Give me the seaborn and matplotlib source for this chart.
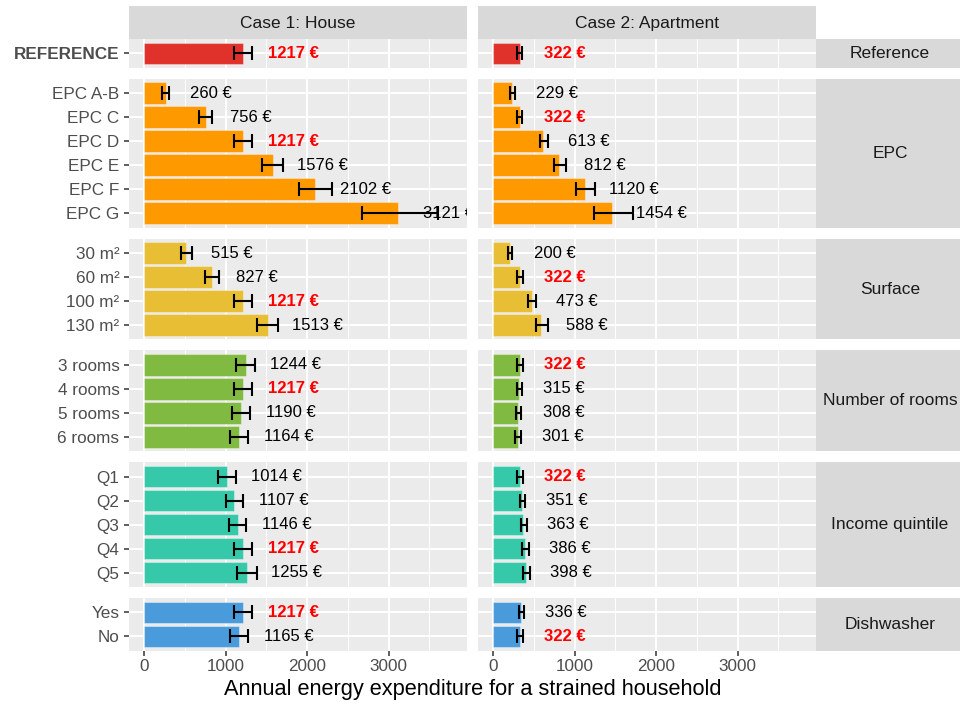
import numpy as np
import pandas as pd
import matplotlib
matplotlib.use("Agg")
import matplotlib.pyplot as plt
from matplotlib.ticker import MultipleLocator
import seaborn as sns

# ---------------------------------------------------------------
# data
# ---------------------------------------------------------------
group_names = ["Reference", "EPC", "Surface", "Number of rooms",
               "Income quintile", "Dishwasher"]
group_colors = ["#E0312A", "#FF9900", "#E8BE35", "#80BA40", "#35C8A9", "#4A9BDC"]

row_group = (["Reference"] + ["EPC"] * 6 + ["Surface"] * 4 +
             ["Number of rooms"] * 4 + ["Income quintile"] * 5 + ["Dishwasher"] * 2)
row_labels = ["REFERENCE",
              "EPC A-B", "EPC C", "EPC D", "EPC E", "EPC F", "EPC G",
              "30 m²", "60 m²", "100 m²", "130 m²",
              "3 rooms", "4 rooms", "5 rooms", "6 rooms",
              "Q1", "Q2", "Q3", "Q4", "Q5",
              "Yes", "No"]

# Case 1: House
house_val = [1217,
             260, 756, 1217, 1576, 2102, 3121,
             515, 827, 1217, 1513,
             1244, 1217, 1190, 1164,
             1014, 1107, 1146, 1217, 1255,
             1217, 1165]
house_lo = [1106,
            221, 672, 1106, 1442, 1900, 2672,
            450, 741, 1106, 1380,
            1130, 1106, 1081, 1052,
            909, 999, 1040, 1106, 1134,
            1106, 1052]
house_hi = [1327,
            303, 836, 1327, 1708, 2302, 3606,
            590, 913, 1327, 1638,
            1355, 1327, 1294, 1269,
            1126, 1216, 1253, 1327, 1380,
            1327, 1278]

# Case 2: Apartment
apt_val = [322,
           229, 322, 613, 812, 1120, 1454,
           200, 322, 473, 588,
           322, 315, 308, 301,
           322, 351, 363, 386, 398,
           336, 322]
apt_lo = [295,
          205, 295, 570, 746, 1012, 1238,
          184, 295, 430, 529,
          295, 287, 279, 266,
          295, 324, 336, 352, 365,
          311, 295]
apt_hi = [357,
          267, 357, 676, 898, 1246, 1718,
          225, 361, 529, 668,
          361, 352, 344, 336,
          361, 389, 410, 434, 447,
          377, 361]

case_titles = ["Case 1: House", "Case 2: Apartment"]
x_title = "Annual energy expenditure for a strained household"

df = pd.DataFrame({"group": row_group, "label": row_labels,
                   "house": house_val, "house_lo": house_lo, "house_hi": house_hi,
                   "apt": apt_val, "apt_lo": apt_lo, "apt_hi": apt_hi})

# ---------------------------------------------------------------
# style
# ---------------------------------------------------------------
sns.set_theme(style="darkgrid", rc={
    "axes.facecolor": "#EBEBEB",
    "grid.color": "white",
    "axes.edgecolor": "#EBEBEB",
    "xtick.color": "#333333",
    "ytick.color": "#333333",
    "xtick.labelcolor": "#4D4D4D",
    "ytick.labelcolor": "#4D4D4D",
})
plt.rcParams["font.family"] = ["Liberation Sans", "DejaVu Sans"]

W, H = 960, 704
fig = plt.figure(figsize=(W / 100, H / 100), dpi=100)


def box(x0, y0, x1, y1):
    return [x0 / W, 1 - y1 / H, (x1 - x0) / W, (y1 - y0) / H]


unit = 24          # px per category
gap = 11           # px between facet rows
top = 39           # px, top of first panel
columns = [(129, 467, "house"), (478, 816, "apt")]
strip_x = (816, 964)
XLIM = (-189, 3964)

# top strips
for (x0, x1, _), title in zip(columns, case_titles):
    sax = fig.add_axes(box(x0, 6, x1, 39))
    sax.set_facecolor("#D9D9D9")
    sax.set_xticks([]); sax.set_yticks([])
    for s in sax.spines.values():
        s.set_visible(False)
    sax.text(0.5, 0.47, title, ha="center", va="center", fontsize=12.5,
             color="#1A1A1A", transform=sax.transAxes)

y_cur = top
for gi, (gname, gcol) in enumerate(zip(group_names, group_colors)):
    sub = df[df["group"] == gname].reset_index(drop=True)
    n = len(sub)
    h = (n + 0.2) * unit
    y0, y1 = y_cur, y_cur + h
    last = gi == len(group_names) - 1

    for ci, (x0, x1, key) in enumerate(columns):
        ax = fig.add_axes(box(x0, y0, x1, y1))
        sns.barplot(x=sub[key], y=sub["label"], ax=ax, color=gcol, orient="h",
                    width=0.9, saturation=1, errorbar=None,
                    edgecolor=(1, 1, 1, 0.35), linewidth=0.8)
        vals = sub[key].to_numpy()
        ys = np.arange(n)
        ax.errorbar(vals, ys, xerr=[vals - sub[key + "_lo"].to_numpy(),
                                    sub[key + "_hi"].to_numpy() - vals],
                    fmt="none", ecolor="black", elinewidth=1.5,
                    capsize=4.7, capthick=1.5, zorder=4)
        ref_val = df[key].iloc[0]
        for yi, v in enumerate(vals):
            hl = v == ref_val
            ax.text(v + 300, yi, f"{v} €", ha="left", va="center", fontsize=12,
                    color="#FF0000" if hl else "black",
                    fontweight="bold" if hl else "normal", clip_on=True, zorder=5)

        ax.set_xlim(*XLIM)
        ax.set_ylim(n - 1 + 0.6, -0.6)
        ax.xaxis.set_major_locator(MultipleLocator(1000))
        ax.xaxis.set_minor_locator(MultipleLocator(500))
        ax.grid(True, which="major", axis="both", color="white", linewidth=1.4)
        ax.grid(True, which="minor", axis="x", color="white", linewidth=0.7)
        ax.set_axisbelow(True)
        ax.set_xlabel(""); ax.set_ylabel("")
        for s in ax.spines.values():
            s.set_visible(False)

        ax.tick_params(axis="y", length=3.6, width=1.1, pad=3.3,
                       labelsize=12.3, left=(ci == 0), labelleft=(ci == 0))
        if ci == 0:
            for lab in ax.get_yticklabels():
                if lab.get_text() == "REFERENCE":
                    lab.set_fontweight("bold")
        ax.tick_params(axis="x", which="minor", length=0)
        if last:
            ax.tick_params(axis="x", which="major", length=3.6, width=1.1,
                           pad=2.2, labelsize=12.3, bottom=True, labelbottom=True)
        else:
            ax.tick_params(axis="x", which="major", bottom=False, labelbottom=False)

    # right strip
    sax = fig.add_axes(box(strip_x[0], y0, strip_x[1], y1))
    sax.set_facecolor("#D9D9D9")
    sax.set_xticks([]); sax.set_yticks([])
    for s in sax.spines.values():
        s.set_visible(False)
    sax.text(0.5, 0.5, gname, ha="center", va="center", fontsize=12.5,
             color="#1A1A1A", transform=sax.transAxes)

    y_cur = y1 + gap

fig.text(472.5 / W, 1 - 690 / H, x_title, ha="center", va="center",
         fontsize=15.7, color="black")

fig.savefig("out.png", dpi=100, facecolor="white")
